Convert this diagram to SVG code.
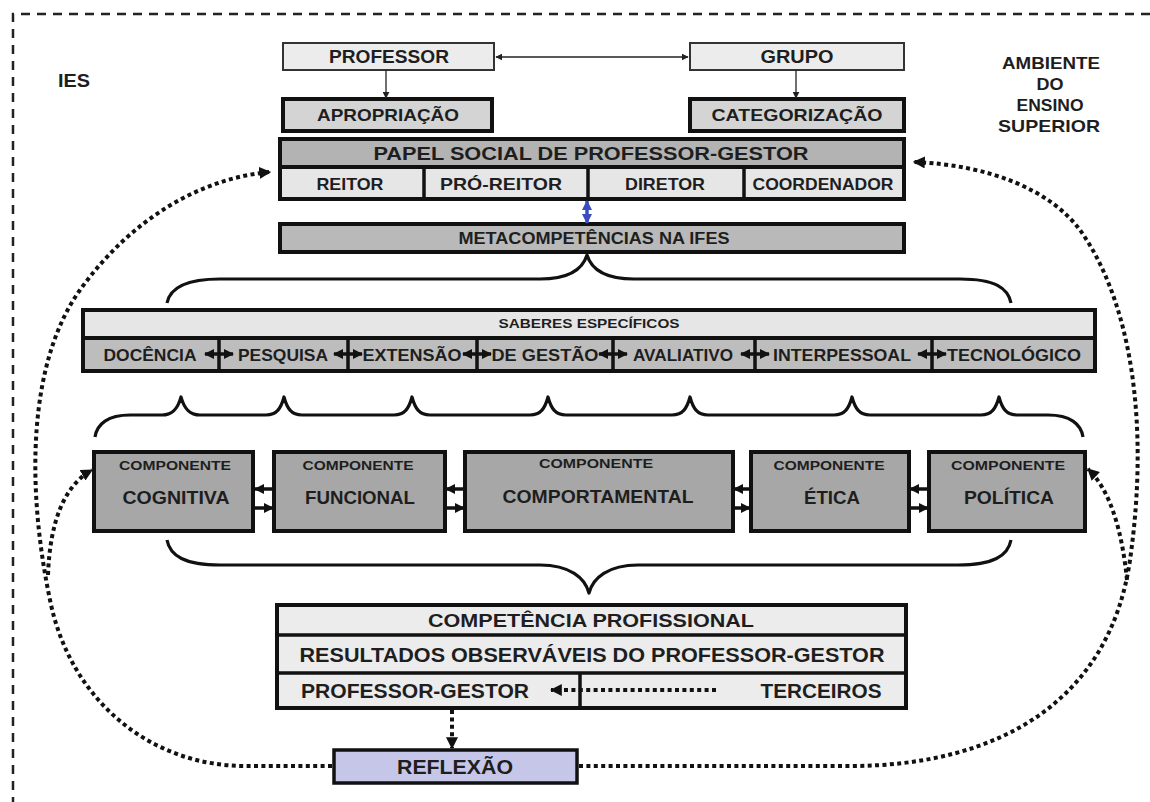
<svg xmlns="http://www.w3.org/2000/svg" width="1150" height="802" viewBox="0 0 1150 802">
<style>
.t{font-family:"Liberation Sans",Arial,sans-serif;font-weight:bold;fill:#1e1e1e;text-anchor:middle;dominant-baseline:central}
.lt{fill:#ececec}
.thin{stroke:#333;stroke-width:2}
.thick{stroke:#111;stroke-width:4}
.sep{stroke:#111;stroke-width:3.5;fill:none}
.brace{stroke:#111;stroke-width:3.2;fill:none;stroke-linejoin:round}
.dot{stroke:#111;stroke-width:4;fill:none;stroke-dasharray:4 3.4}
.dash{stroke:#222;stroke-width:2.5;fill:none;stroke-dasharray:9 7}
</style>
<defs>
<marker id="ah" viewBox="0 0 10 10" refX="9" refY="5" markerWidth="12" markerHeight="12" markerUnits="userSpaceOnUse" orient="auto-start-reverse"><path d="M0,0 L10,5 L0,10 z" fill="#111"/></marker>
<marker id="ahs" viewBox="0 0 10 10" refX="9" refY="5" markerWidth="7" markerHeight="7" markerUnits="userSpaceOnUse" orient="auto-start-reverse"><path d="M0,0 L10,5 L0,10 z" fill="#222"/></marker>
<marker id="ahm" viewBox="0 0 10 10" refX="9" refY="5" markerWidth="10" markerHeight="13" markerUnits="userSpaceOnUse" orient="auto-start-reverse"><path d="M0,0 L10,5 L0,10 z" fill="#111"/></marker>
<marker id="ahb" viewBox="0 0 10 10" refX="9" refY="5" markerWidth="10" markerHeight="12" markerUnits="userSpaceOnUse" orient="auto-start-reverse"><path d="M0,0 L10,5 L0,10 z" fill="#3b4cc0"/></marker>
</defs>
<rect width="1150" height="802" fill="#fff"/>
<path class="dash" d="M1150,14 H13 V802"/>
<g id="ies"><text class="t" x="74" y="81" font-size="17.5" textLength="32" lengthAdjust="spacingAndGlyphs">IES</text></g>
<g id="ambiente">
<text class="t" x="1051" y="63" font-size="17" textLength="98" lengthAdjust="spacingAndGlyphs">AMBIENTE</text>
<text class="t" x="1050" y="84" font-size="17" textLength="27" lengthAdjust="spacingAndGlyphs">DO</text>
<text class="t" x="1050" y="105" font-size="17" textLength="67" lengthAdjust="spacingAndGlyphs">ENSINO</text>
<text class="t" x="1049" y="126" font-size="17" textLength="102" lengthAdjust="spacingAndGlyphs">SUPERIOR</text>
</g>
<g id="professor"><rect x="283" y="43" width="211" height="27" class="lt thin"/><text class="t" x="389" y="57" font-size="17.5" textLength="120" lengthAdjust="spacingAndGlyphs">PROFESSOR</text></g>
<g id="grupo"><rect x="690" y="43" width="214" height="27" class="lt thin"/><text class="t" x="797" y="57" font-size="17.5" textLength="73" lengthAdjust="spacingAndGlyphs">GRUPO</text></g>
<g id="apropriacao"><rect x="283" y="99" width="209" height="32" fill="#d4d4d4" class="thick"/><text class="t" x="388" y="115.5" font-size="17" textLength="142" lengthAdjust="spacingAndGlyphs">APROPRIAÇÃO</text></g>
<g id="categorizacao"><rect x="690" y="99" width="214" height="32" fill="#d4d4d4" class="thick"/><text class="t" x="797" y="115.5" font-size="17" textLength="171" lengthAdjust="spacingAndGlyphs">CATEGORIZAÇÃO</text></g>
<g id="papel-social">
<rect x="280" y="139" width="624" height="60" fill="#e6e6e6" class="thick"/>
<rect x="280" y="139" width="624" height="28" fill="#b3b3b3" class="thick"/>
<path class="sep" d="M424,167 V199 M588,167 V199 M744,167 V199"/>
<text class="t" x="591" y="153.5" font-size="19" textLength="435" lengthAdjust="spacingAndGlyphs">PAPEL SOCIAL DE PROFESSOR-GESTOR</text>
<text class="t" x="350" y="183.5" font-size="16.5" textLength="67" lengthAdjust="spacingAndGlyphs">REITOR</text>
<text class="t" x="501" y="183.5" font-size="16.5" textLength="122" lengthAdjust="spacingAndGlyphs">PRÓ-REITOR</text>
<text class="t" x="665" y="183.5" font-size="16.5" textLength="80" lengthAdjust="spacingAndGlyphs">DIRETOR</text>
<text class="t" x="823" y="183.5" font-size="16.5" textLength="141" lengthAdjust="spacingAndGlyphs">COORDENADOR</text>
</g>
<g id="metacompetencias"><rect x="280" y="224" width="624" height="28" fill="#b9b9b9" class="thick"/><text class="t" x="594" y="238.5" font-size="16" textLength="271" lengthAdjust="spacingAndGlyphs">METACOMPETÊNCIAS NA IFES</text></g>
<g id="saberes">
<rect x="83" y="310" width="1012" height="61" fill="#bdbdbd" class="thick"/>
<rect x="83" y="310" width="1012" height="28" fill="#e6e6e6" class="thick"/>
<path class="sep" d="M219,338 V371 M348,338 V371 M477,338 V371 M613,338 V371 M755,338 V371 M932,338 V371"/>
<text class="t" x="589" y="324" font-size="12.5" textLength="181" lengthAdjust="spacingAndGlyphs">SABERES ESPECÍFICOS</text>
<text class="t" x="150" y="354.5" font-size="16.5" textLength="93" lengthAdjust="spacingAndGlyphs">DOCÊNCIA</text>
<text class="t" x="283" y="354.5" font-size="16.5" textLength="90" lengthAdjust="spacingAndGlyphs">PESQUISA</text>
<text class="t" x="412" y="354.5" font-size="16.5" textLength="99" lengthAdjust="spacingAndGlyphs">EXTENSÃO</text>
<text class="t" x="545" y="354.5" font-size="16.5" textLength="107" lengthAdjust="spacingAndGlyphs">DE GESTÃO</text>
<text class="t" x="683" y="354.5" font-size="16.5" textLength="100" lengthAdjust="spacingAndGlyphs">AVALIATIVO</text>
<text class="t" x="842" y="354.5" font-size="16.5" textLength="138" lengthAdjust="spacingAndGlyphs">INTERPESSOAL</text>
<text class="t" x="1014" y="354.5" font-size="16.5" textLength="134" lengthAdjust="spacingAndGlyphs">TECNOLÓGICO</text>
</g>
<g id="comp-cognitiva"><rect x="94" y="452" width="159" height="79" fill="#a7a7a7" class="thick"/><text class="t" x="175" y="465" font-size="13.5" textLength="112" lengthAdjust="spacingAndGlyphs">COMPONENTE</text><text class="t" x="176" y="497" font-size="18.5" textLength="107" lengthAdjust="spacingAndGlyphs">COGNITIVA</text></g>
<g id="comp-funcional"><rect x="274" y="452" width="171" height="79" fill="#a7a7a7" class="thick"/><text class="t" x="358" y="465" font-size="13.5" textLength="111" lengthAdjust="spacingAndGlyphs">COMPONENTE</text><text class="t" x="360" y="497" font-size="18.5" textLength="110" lengthAdjust="spacingAndGlyphs">FUNCIONAL</text></g>
<g id="comp-comportamental"><rect x="465" y="452" width="268" height="79" fill="#a7a7a7" class="thick"/><text class="t" x="596" y="463" font-size="13.5" textLength="114" lengthAdjust="spacingAndGlyphs">COMPONENTE</text><text class="t" x="598" y="496" font-size="18.5" textLength="191" lengthAdjust="spacingAndGlyphs">COMPORTAMENTAL</text></g>
<g id="comp-etica"><rect x="751" y="452" width="158" height="79" fill="#a7a7a7" class="thick"/><text class="t" x="829" y="465" font-size="13.5" textLength="111" lengthAdjust="spacingAndGlyphs">COMPONENTE</text><text class="t" x="832" y="497" font-size="18.5" textLength="56" lengthAdjust="spacingAndGlyphs">ÉTICA</text></g>
<g id="comp-politica"><rect x="929" y="452" width="156" height="79" fill="#a7a7a7" class="thick"/><text class="t" x="1008" y="465" font-size="13.5" textLength="114" lengthAdjust="spacingAndGlyphs">COMPONENTE</text><text class="t" x="1009" y="497" font-size="18.5" textLength="90" lengthAdjust="spacingAndGlyphs">POLÍTICA</text></g>
<g id="competencia">
<rect x="277" y="605" width="629" height="103" class="lt thick"/>
<path class="sep" d="M277,635 H906 M277,673 H906 M580,673 V708"/>
<text class="t" x="591" y="620" font-size="18.5" textLength="326" lengthAdjust="spacingAndGlyphs">COMPETÊNCIA PROFISSIONAL</text>
<text class="t" x="592" y="654.5" font-size="19.5" textLength="585" lengthAdjust="spacingAndGlyphs">RESULTADOS OBSERVÁVEIS DO PROFESSOR-GESTOR</text>
<text class="t" x="415" y="690.5" font-size="19.5" textLength="228" lengthAdjust="spacingAndGlyphs">PROFESSOR-GESTOR</text>
<text class="t" x="821" y="690.5" font-size="19.5" textLength="121" lengthAdjust="spacingAndGlyphs">TERCEIROS</text>
</g>
<g id="reflexao"><rect x="334" y="750" width="243" height="33" fill="#c6c6e8" stroke="#111" stroke-width="3.5"/><text class="t" x="455" y="766.5" font-size="19.5" textLength="116" lengthAdjust="spacingAndGlyphs">REFLEXÃO</text></g>
<g id="connectors">
<path d="M496,57 H688" stroke="#222" stroke-width="1.3" marker-start="url(#ahs)" marker-end="url(#ahs)"/>
<path d="M386,70 V98" stroke="#222" stroke-width="1.3" marker-end="url(#ahs)"/>
<path d="M796,70 V98" stroke="#222" stroke-width="1.3" marker-end="url(#ahs)"/>
<path d="M587,201 V223" stroke="#3b4cc0" stroke-width="3.5" marker-start="url(#ahb)" marker-end="url(#ahb)"/>
<path class="brace" d="M167,303 C170,288 185,279 220,279 L540,279 C570,279 583,268 587,255 C591,268 604,279 634,279 L960,279 C995,279 1008,288 1011,303"/>
<g stroke="#111" stroke-width="3.5">
<path d="M205,354 H233" marker-start="url(#ahm)" marker-end="url(#ahm)"/>
<path d="M334,354 H362" marker-start="url(#ahm)" marker-end="url(#ahm)"/>
<path d="M463,354 H491" marker-start="url(#ahm)" marker-end="url(#ahm)"/>
<path d="M599,354 H627" marker-start="url(#ahm)" marker-end="url(#ahm)"/>
<path d="M741,354 H769" marker-start="url(#ahm)" marker-end="url(#ahm)"/>
<path d="M918,354 H946" marker-start="url(#ahm)" marker-end="url(#ahm)"/>
</g>
<path class="brace" d="M95,437 C97,424 108,415 130,415 L162,415 C173,415 178,408 181,397 C184,408 189,415 200,415 L266,415 C277,415 281,408 284,397 C287,408 291,415 302,415 L394,415 C405,415 409,408 412,397 C415,408 419,415 430,415 L530,415 C541,415 545,408 548,397 C551,408 555,415 566,415 L672,415 C683,415 687,408 690,397 C693,408 697,415 708,415 L834,415 C845,415 849,408 852,397 C855,408 859,415 870,415 L981,415 C992,415 996,408 999,397 C1002,408 1006,415 1017,415 L1048,415 C1070,415 1081,424 1083,437"/>
<g stroke="#111" stroke-width="3.5">
<path d="M274,489 H255" marker-end="url(#ahm)"/><path d="M254,508 H273" marker-end="url(#ahm)"/>
<path d="M465,489 H446" marker-end="url(#ahm)"/><path d="M445,508 H464" marker-end="url(#ahm)"/>
<path d="M751,489 H734" marker-end="url(#ahm)"/><path d="M733,508 H750" marker-end="url(#ahm)"/>
<path d="M929,489 H910" marker-end="url(#ahm)"/><path d="M909,508 H928" marker-end="url(#ahm)"/>
</g>
<path class="brace" d="M167,540 C170,556 185,565 220,565 L540,565 C570,565 585,578 589,593 C593,578 608,565 638,565 L958,565 C993,565 1008,556 1011,540"/>
<path class="dot" d="M716,690 H551" marker-end="url(#ah)"/>
<path class="dot" d="M452,710 V748" marker-end="url(#ah)"/>
<path class="dot" d="M332,766 L245,766 C150,766 70,700 50,600 C25,480 30,360 80,290 C130,220 200,178 270,172" marker-end="url(#ah)"/>
<path class="dot" d="M48,575 C50,520 65,485 92,470" marker-end="url(#ah)"/>
<path class="dot" d="M579,766 L850,766 C1000,766 1110,700 1130,560 C1150,420 1130,300 1080,230 C1050,190 990,165 914,162" marker-end="url(#ah)"/>
<path class="dot" d="M1127,580 C1122,530 1110,490 1088,469" marker-end="url(#ah)"/>
</g>
</svg>
